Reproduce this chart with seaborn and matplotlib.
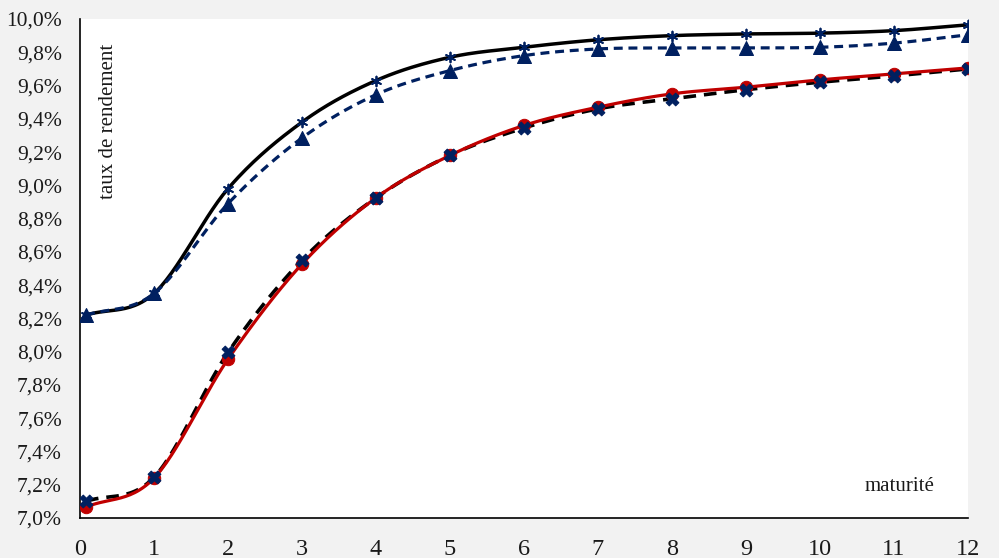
import numpy as np
import pandas as pd
import seaborn as sns
import matplotlib.pyplot as plt
from matplotlib.ticker import FuncFormatter

# maturities (first point is one month)
maturite = [1/12, 1, 2, 3, 4, 5, 6, 7, 8, 9, 10, 11, 12]

# yields in %
courbe_haute = [8.22, 8.35, 8.98, 9.38, 9.63, 9.77, 9.83, 9.875, 9.90, 9.91, 9.915, 9.93, 9.965]
courbe_haute_est = [8.22, 8.35, 8.89, 9.285, 9.545, 9.69, 9.78, 9.82, 9.826, 9.826, 9.83, 9.855, 9.905]
courbe_basse = [7.066, 7.24, 7.955, 8.527, 8.925, 9.18, 9.36, 9.47, 9.55, 9.59, 9.634, 9.67, 9.706]
courbe_basse_est = [7.10, 7.245, 7.995, 8.55, 8.925, 9.18, 9.345, 9.46, 9.52, 9.575, 9.62, 9.658, 9.70]

NAVY = "#002060"
RED = "#c00000"


def smooth(x, y, n=30):
    # Catmull-Rom style curve through the points (like Excel "smoothed line")
    x = np.asarray(x, float)
    y = np.asarray(y, float)
    px = np.concatenate([[2 * x[0] - x[1]], x, [2 * x[-1] - x[-2]]])
    py = np.concatenate([[2 * y[0] - y[1]], y, [2 * y[-1] - y[-2]]])
    t = np.linspace(0, 1, n)
    xs, ys = [], []
    for i in range(1, len(px) - 2):
        p0, p1, p2, p3 = px[i - 1], px[i], px[i + 1], px[i + 2]
        q0, q1, q2, q3 = py[i - 1], py[i], py[i + 1], py[i + 2]
        c1x, c1y = p1 + (p2 - p0) / 6, q1 + (q2 - q0) / 6
        c2x, c2y = p2 - (p3 - p1) / 6, q2 - (q3 - q1) / 6
        b = [(1 - t) ** 3, 3 * (1 - t) ** 2 * t, 3 * (1 - t) * t ** 2, t ** 3]
        xs.append(b[0] * p1 + b[1] * c1x + b[2] * c2x + b[3] * p2)
        ys.append(b[0] * q1 + b[1] * c1y + b[2] * c2y + b[3] * q2)
    return np.concatenate(xs), np.concatenate(ys)


df = pd.DataFrame({
    "maturite": maturite,
    "haute": courbe_haute,
    "haute_est": courbe_haute_est,
    "basse": courbe_basse,
    "basse_est": courbe_basse_est,
})

sns.set_theme(style="white")
plt.rcParams["font.family"] = ["Liberation Serif", "DejaVu Serif"]

fig = plt.figure(figsize=(9.99, 5.58), dpi=100, facecolor="#f2f2f2")
ax = fig.add_axes([80 / 999, 1 - 518 / 558, 888 / 999, 499 / 558])
ax.set_facecolor("white")

# lower curves
xs, ys = smooth(df.maturite, df.basse_est)
ax.plot(xs, ys, color="black", lw=2.6, ls=(0, (3.5, 2.2)), zorder=2)
xs, ys = smooth(df.maturite, df.basse)
ax.plot(xs, ys, color=RED, lw=2.3, zorder=3)
sns.scatterplot(data=df, x="maturite", y="basse", ax=ax, marker="o", s=80,
                color=RED, edgecolor=RED, zorder=4)
sns.scatterplot(data=df, x="maturite", y="basse_est", ax=ax, marker="X", s=85,
                color=NAVY, edgecolor=NAVY, zorder=5)

# upper curves
xs, ys = smooth(df.maturite, df.haute)
ax.plot(xs, ys, color="black", lw=2.5, zorder=2)
xs, ys = smooth(df.maturite, df.haute_est)
ax.plot(xs, ys, color=NAVY, lw=2.3, ls=(0, (2.8, 1.8)), zorder=3)
sns.scatterplot(data=df, x="maturite", y="haute_est", ax=ax, marker="^", s=100,
                color=NAVY, edgecolor=NAVY, zorder=4)
sns.scatterplot(data=df, x="maturite", y="haute", ax=ax, marker=(6, 2, 0), s=50,
                color=NAVY, edgecolor=NAVY, linewidth=1.3, zorder=5)

ax.set_xlim(0, 12)
ax.set_ylim(7.0, 10.0)
ax.set_xticks(range(0, 13))
ax.set_yticks(np.arange(7.0, 10.01, 0.2))
ax.yaxis.set_major_formatter(FuncFormatter(lambda v, p: f"{v:.1f}%".replace(".", ",")))
ax.tick_params(axis="both", length=0, colors="#1a1a1a")
ax.tick_params(axis="y", labelsize=15.5, pad=13)
ax.tick_params(axis="x", labelsize=17.5, pad=15)
ax.set_xlabel("")
ax.set_ylabel("")

for side in ["top", "right"]:
    ax.spines[side].set_visible(False)
for side in ["left", "bottom"]:
    ax.spines[side].set_color("black")
    ax.spines[side].set_linewidth(1.2)

ax.text(0.38, 9.85, "taux de rendement", rotation=90, fontsize=15, ha="center", va="top", color="#1a1a1a")
ax.text(11.08, 7.19, "maturité", fontsize=15, ha="center", va="center", color="#1a1a1a")

fig.savefig("out.png", dpi=100, facecolor=fig.get_facecolor())
